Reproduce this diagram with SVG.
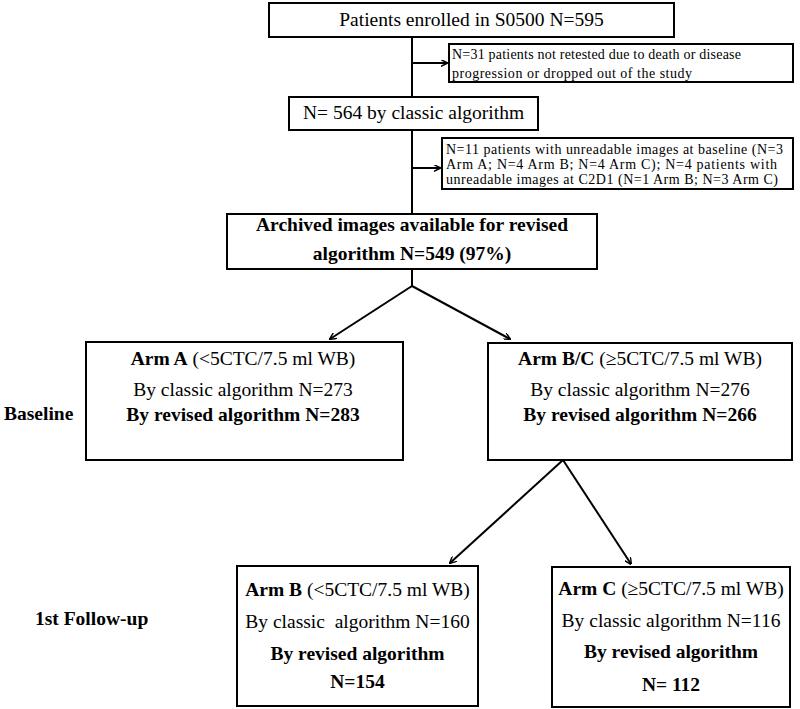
<svg xmlns="http://www.w3.org/2000/svg" width="800" height="709" viewBox="0 0 800 709">
<defs>
<marker id="ah" viewBox="0 0 10 10" refX="9" refY="5" markerWidth="7" markerHeight="7" orient="auto" markerUnits="userSpaceOnUse">
<path d="M0,0 L10,5 L0,10" fill="none" stroke="#000" stroke-width="2"/>
</marker>
<style>
.box{fill:#fff;stroke:#000;stroke-width:2}
.t{font-family:"Liberation Serif","Times New Roman",serif;fill:#000}
.c{text-anchor:middle}
.b{font-weight:bold}
.big{font-size:19.5px}
.sm{font-size:14px}
.ln{fill:none;stroke:#000;stroke-width:2}
</style>
</defs>
<rect width="800" height="709" fill="#fff"/>
<g id="connectors">
<line class="ln" x1="412" y1="37" x2="412" y2="214"/>
<line class="ln" x1="412" y1="63" x2="447" y2="63" marker-end="url(#ah)"/>
<line class="ln" x1="412" y1="168" x2="440" y2="168" marker-end="url(#ah)"/>
<line class="ln" x1="412" y1="269" x2="412" y2="286"/>
<line class="ln" x1="412" y1="286" x2="330" y2="339" marker-end="url(#ah)"/>
<line class="ln" x1="412" y1="286" x2="510" y2="339" marker-end="url(#ah)"/>
<line class="ln" x1="563" y1="460" x2="450" y2="563" marker-end="url(#ah)"/>
<line class="ln" x1="563" y1="460" x2="631" y2="564" marker-end="url(#ah)"/>
</g>
<g id="n_enrolled">
<rect class="box" x="269" y="3" width="405" height="34"/>
<text class="t c big" x="471.5" y="26">Patients enrolled in S0500 N=595</text>
</g>
<g id="n_excl1">
<rect class="box" x="449" y="44" width="344" height="38"/>
<text class="t sm" x="452" y="59" textLength="289" lengthAdjust="spacing">N=31 patients not retested due to death or disease</text>
<text class="t sm" x="452" y="78" textLength="240" lengthAdjust="spacing">progression or dropped out of the study</text>
</g>
<g id="n_classic">
<rect class="box" x="289" y="97" width="249" height="33"/>
<text class="t c big" x="413.5" y="119">N= 564 by classic algorithm</text>
</g>
<g id="n_excl2">
<rect class="box" x="442" y="138" width="351" height="51"/>
<text class="t sm" x="446" y="154" textLength="337" lengthAdjust="spacing">N=11 patients with unreadable images at baseline (N=3</text>
<text class="t sm" x="446" y="169" textLength="331" lengthAdjust="spacing">Arm A; N=4 Arm B; N=4 Arm C); N=4 patients with</text>
<text class="t sm" x="446" y="184" textLength="332" lengthAdjust="spacing">unreadable images at C2D1 (N=1 Arm B; N=3 Arm C)</text>
</g>
<g id="n_archived">
<rect class="box" x="227" y="214" width="370" height="55"/>
<text class="t c b big" x="412" y="231">Archived images available for revised</text>
<text class="t c b big" x="412" y="260">algorithm N=549 (97%)</text>
</g>
<g id="n_armA">
<rect class="box" x="86" y="342" width="317" height="118"/>
<text class="t c big" x="243" y="365"><tspan class="b">Arm A</tspan> (&lt;5CTC/7.5 ml WB)</text>
<text class="t c big" x="243" y="396">By classic algorithm N=273</text>
<text class="t c b big" x="243" y="421">By revised algorithm N=283</text>
</g>
<g id="n_armBC">
<rect class="box" x="488" y="343" width="304" height="117"/>
<text class="t c big" x="640" y="365"><tspan class="b">Arm B/C</tspan> (≥5CTC/7.5 ml WB)</text>
<text class="t c big" x="640" y="396">By classic algorithm N=276</text>
<text class="t c b big" x="640" y="421">By revised algorithm N=266</text>
</g>
<g id="n_armB">
<rect class="box" x="237" y="566" width="241" height="140"/>
<text class="t c big" x="357.5" y="596"><tspan class="b">Arm B</tspan> (&lt;5CTC/7.5 ml WB)</text>
<text class="t c big" x="357.5" y="628" xml:space="preserve">By classic  algorithm N=160</text>
<text class="t c b big" x="357.5" y="660">By revised algorithm</text>
<text class="t c b big" x="357.5" y="688">N=154</text>
</g>
<g id="n_armC">
<rect class="box" x="552" y="567" width="238" height="140"/>
<text class="t c big" x="671" y="595"><tspan class="b">Arm C</tspan> (≥5CTC/7.5 ml WB)</text>
<text class="t c big" x="671" y="627">By classic algorithm N=116</text>
<text class="t c b big" x="671" y="658">By revised algorithm</text>
<text class="t c b big" x="671" y="691">N= 112</text>
</g>
<g id="labels">
<text class="t b big" x="4" y="420">Baseline</text>
<text class="t b big" x="35" y="625">1st Follow-up</text>
</g>
</svg>
